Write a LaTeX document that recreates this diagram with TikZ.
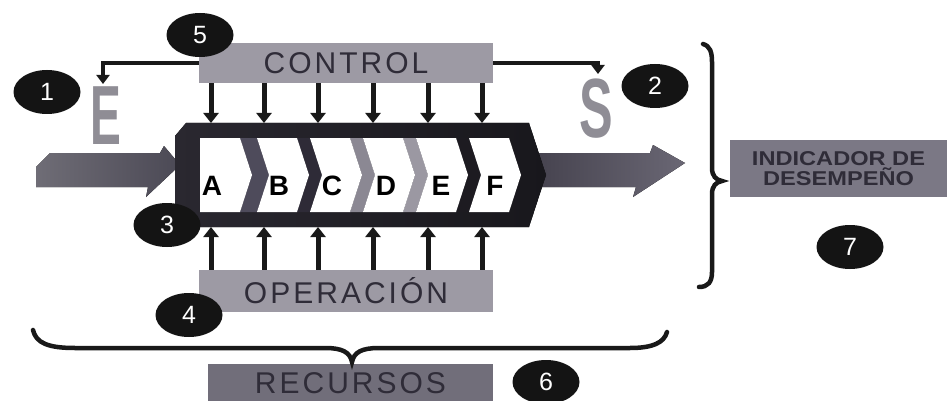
\documentclass[tikz,border=0pt]{standalone}
\usepackage{fontspec}
\setmainfont{Liberation Sans}
\newfontfamily\spaced[LetterSpace=10]{Liberation Sans}
\usetikzlibrary{shapes.geometric,arrows.meta}
\definecolor{boxg}{HTML}{9D9AA4}
\definecolor{recg}{HTML}{716E7A}
\definecolor{indg}{HTML}{7B7885}
\definecolor{txtd}{HTML}{2F2C38}
\definecolor{frmL}{HTML}{2A2830}
\definecolor{frmM}{HTML}{4F4C59}
\definecolor{frmR}{HTML}{18171C}
\definecolor{ltr}{HTML}{8F8D95}
\definecolor{bandA}{HTML}{4E4B5B}
\definecolor{bandB}{HTML}{2E2B37}
\definecolor{bandC}{HTML}{8B8893}
\definecolor{bandD}{HTML}{9B98A2}
\definecolor{bandE}{HTML}{1D1B21}
\definecolor{arrL}{HTML}{6F6D76}
\definecolor{arrR}{HTML}{4B4955}
\definecolor{outL}{HTML}{46434F}
\definecolor{outR}{HTML}{6A6774}
\begin{document}
\begin{tikzpicture}[x=1pt,y=-1pt,
  gbox/.style={fill=boxg, inner sep=0pt, text=txtd},
  num/.style={ellipse, fill=black!92, text=white, minimum width=67pt, minimum height=44pt, inner sep=0pt, font=\fontsize{25}{25}\selectfont},
  carrow/.style={line width=5pt, -{Triangle[width=15pt,length=10pt]}, black!90},
  farrow/.style={line width=4pt, -{Triangle[width=13pt,length=9pt]}, black!90},
  letter/.style={font=\fontsize{28}{28}\bfseries\selectfont, inner sep=0pt, text=black},
  brc/.style={line width=4.5pt, line cap=round, black!90},
  whitechev/.style={fill=white},
  boxtext/.style={font=\spaced\fontsize{30}{30}\selectfont}
]
\useasboundingbox (0,0) rectangle (947,401);
\fill[white] (0,0) rectangle (947,401);

% input arrow
\fill[left color=arrL, right color=arrR]
  (36,167) -- (50,153) -- (160,153) -- (164,146) -- (180,165) -- (146,197) -- (148,187) -- (36,187) -- cycle;
% output arrow
\fill[left color=outL, right color=outR]
  (536,153) -- (650,153) -- (653,145) -- (685,163) -- (633,197) -- (636,187) -- (536,187) -- cycle;

% process frame
\fill[left color=frmL, middle color=frmM, right color=frmR]
  (175,136) -- (186,123) -- (529,123) -- (546,175) -- (529,227) -- (175,227) -- cycle;

% bands between chevrons
\fill[bandA] (240,138) -- (257,138) -- (269,175) -- (257,212) -- (240,212) -- (252,175) -- cycle;
\fill[bandB] (297,138) -- (310,138) -- (322,175) -- (310,212) -- (297,212) -- (309,175) -- cycle;
\fill[bandC] (350,138) -- (363,138) -- (375,175) -- (363,212) -- (350,212) -- (362,175) -- cycle;
\fill[bandD] (403,138) -- (416,138) -- (428,175) -- (416,212) -- (403,212) -- (415,175) -- cycle;
\fill[bandE] (456,138) -- (469,138) -- (481,175) -- (469,212) -- (456,212) -- (468,175) -- cycle;

% white chevrons
\fill[whitechev] (200,138) -- (240,138) -- (252,175) -- (240,212) -- (200,212) -- cycle;
\foreach \a in {257,310,363,416,469}{
  \fill[whitechev] (\a,138) -- (\a+40,138) -- (\a+52,175) -- (\a+40,212) -- (\a,212) -- (\a+12,175) -- cycle;
}
\node[letter] (lA) at (212,186) {A};
\node[letter] (lB) at (279,186) {B};
\node[letter] (lC) at (332,186) {C};
\node[letter] (lD) at (386,186) {D};
\node[letter] (lE) at (441,186) {E};
\node[letter] (lF) at (495,186) {F};

% boxes
\node[gbox, minimum width=294pt, minimum height=40pt] (ctrl) at (346,63)
  {\spaced\fontsize{30}{30}\selectfont CONTROL};
\node[gbox, minimum width=294pt, minimum height=42pt] (oper) at (346,291)
  {\spaced\fontsize{30}{30}\selectfont OPERACIÓN};
\node[gbox, fill=recg, minimum width=285pt, minimum height=38pt] (rec) at (350.5,383)
  {\spaced\fontsize{30}{30}\selectfont RECURSOS};
\node[gbox, fill=indg, minimum width=217pt, minimum height=57pt, align=center] (ind) at (838.5,168.5)
  {\scalebox{1.18}[1]{\fontsize{20}{20}\bfseries\selectfont INDICADOR DE}\\[1pt]
   \scalebox{1.18}[1]{\fontsize{20}{20}\bfseries\selectfont DESEMPEÑO}};

% control and operation arrows
\foreach \x [count=\i] in {211,264,318,373,428,482}{
  \coordinate (t\i) at (\x,123);
  \coordinate (b\i) at (\x,227);
  \draw[carrow] (ctrl.south -| t\i) -- (t\i);
  \draw[carrow] (oper.north -| b\i) -- (b\i);
}

% E and S
\node[text=ltr, inner sep=0pt] (Ein) at (106,116)
  {\scalebox{0.55}[1]{\fontsize{84}{84}\bfseries\selectfont E}};
\node[text=ltr, inner sep=0pt] (Sout) at (596,109)
  {\scalebox{0.6}[1]{\fontsize{84}{84}\bfseries\selectfont S}};

% feedback arrows
\coordinate (eTop) at (103,84);
\coordinate (sTop) at (598,74);
\draw[farrow] (ctrl.west) -- (eTop |- ctrl.west) -- (eTop);
\draw[farrow] (ctrl.east) -- (sTop |- ctrl.east) -- (sTop);

% numbers
\node[num] (n5) at (200,35) {5};
\node[num] (n1) at (47,92) {1};
\node[num] (n2) at (655,86) {2};
\node[num] (n3) at (167,225) {3};
\node[num] (n4) at (189,315) {4};
\node[num] (n6) at (546,382) {6};
\node[num] (n7) at (850,247) {7};

% braces
\draw[brc] (33,330) .. controls (36,343) and (48,348) .. (75,348) -- (325,348)
  .. controls (342,348) and (350,352) .. (352,362)
  .. controls (354,352) and (362,348) .. (379,348) -- (630,348)
  .. controls (652,348) and (664,343) .. (667,332);
\draw[brc] (703,44) .. controls (710,46) and (712,52) .. (712,62) -- (712,168)
  .. controls (712,176) and (716,180) .. (722,181)
  .. controls (716,182) and (712,186) .. (712,194) -- (712,272)
  .. controls (712,282) and (708,287) .. (699,287);
\end{tikzpicture}
\end{document}
